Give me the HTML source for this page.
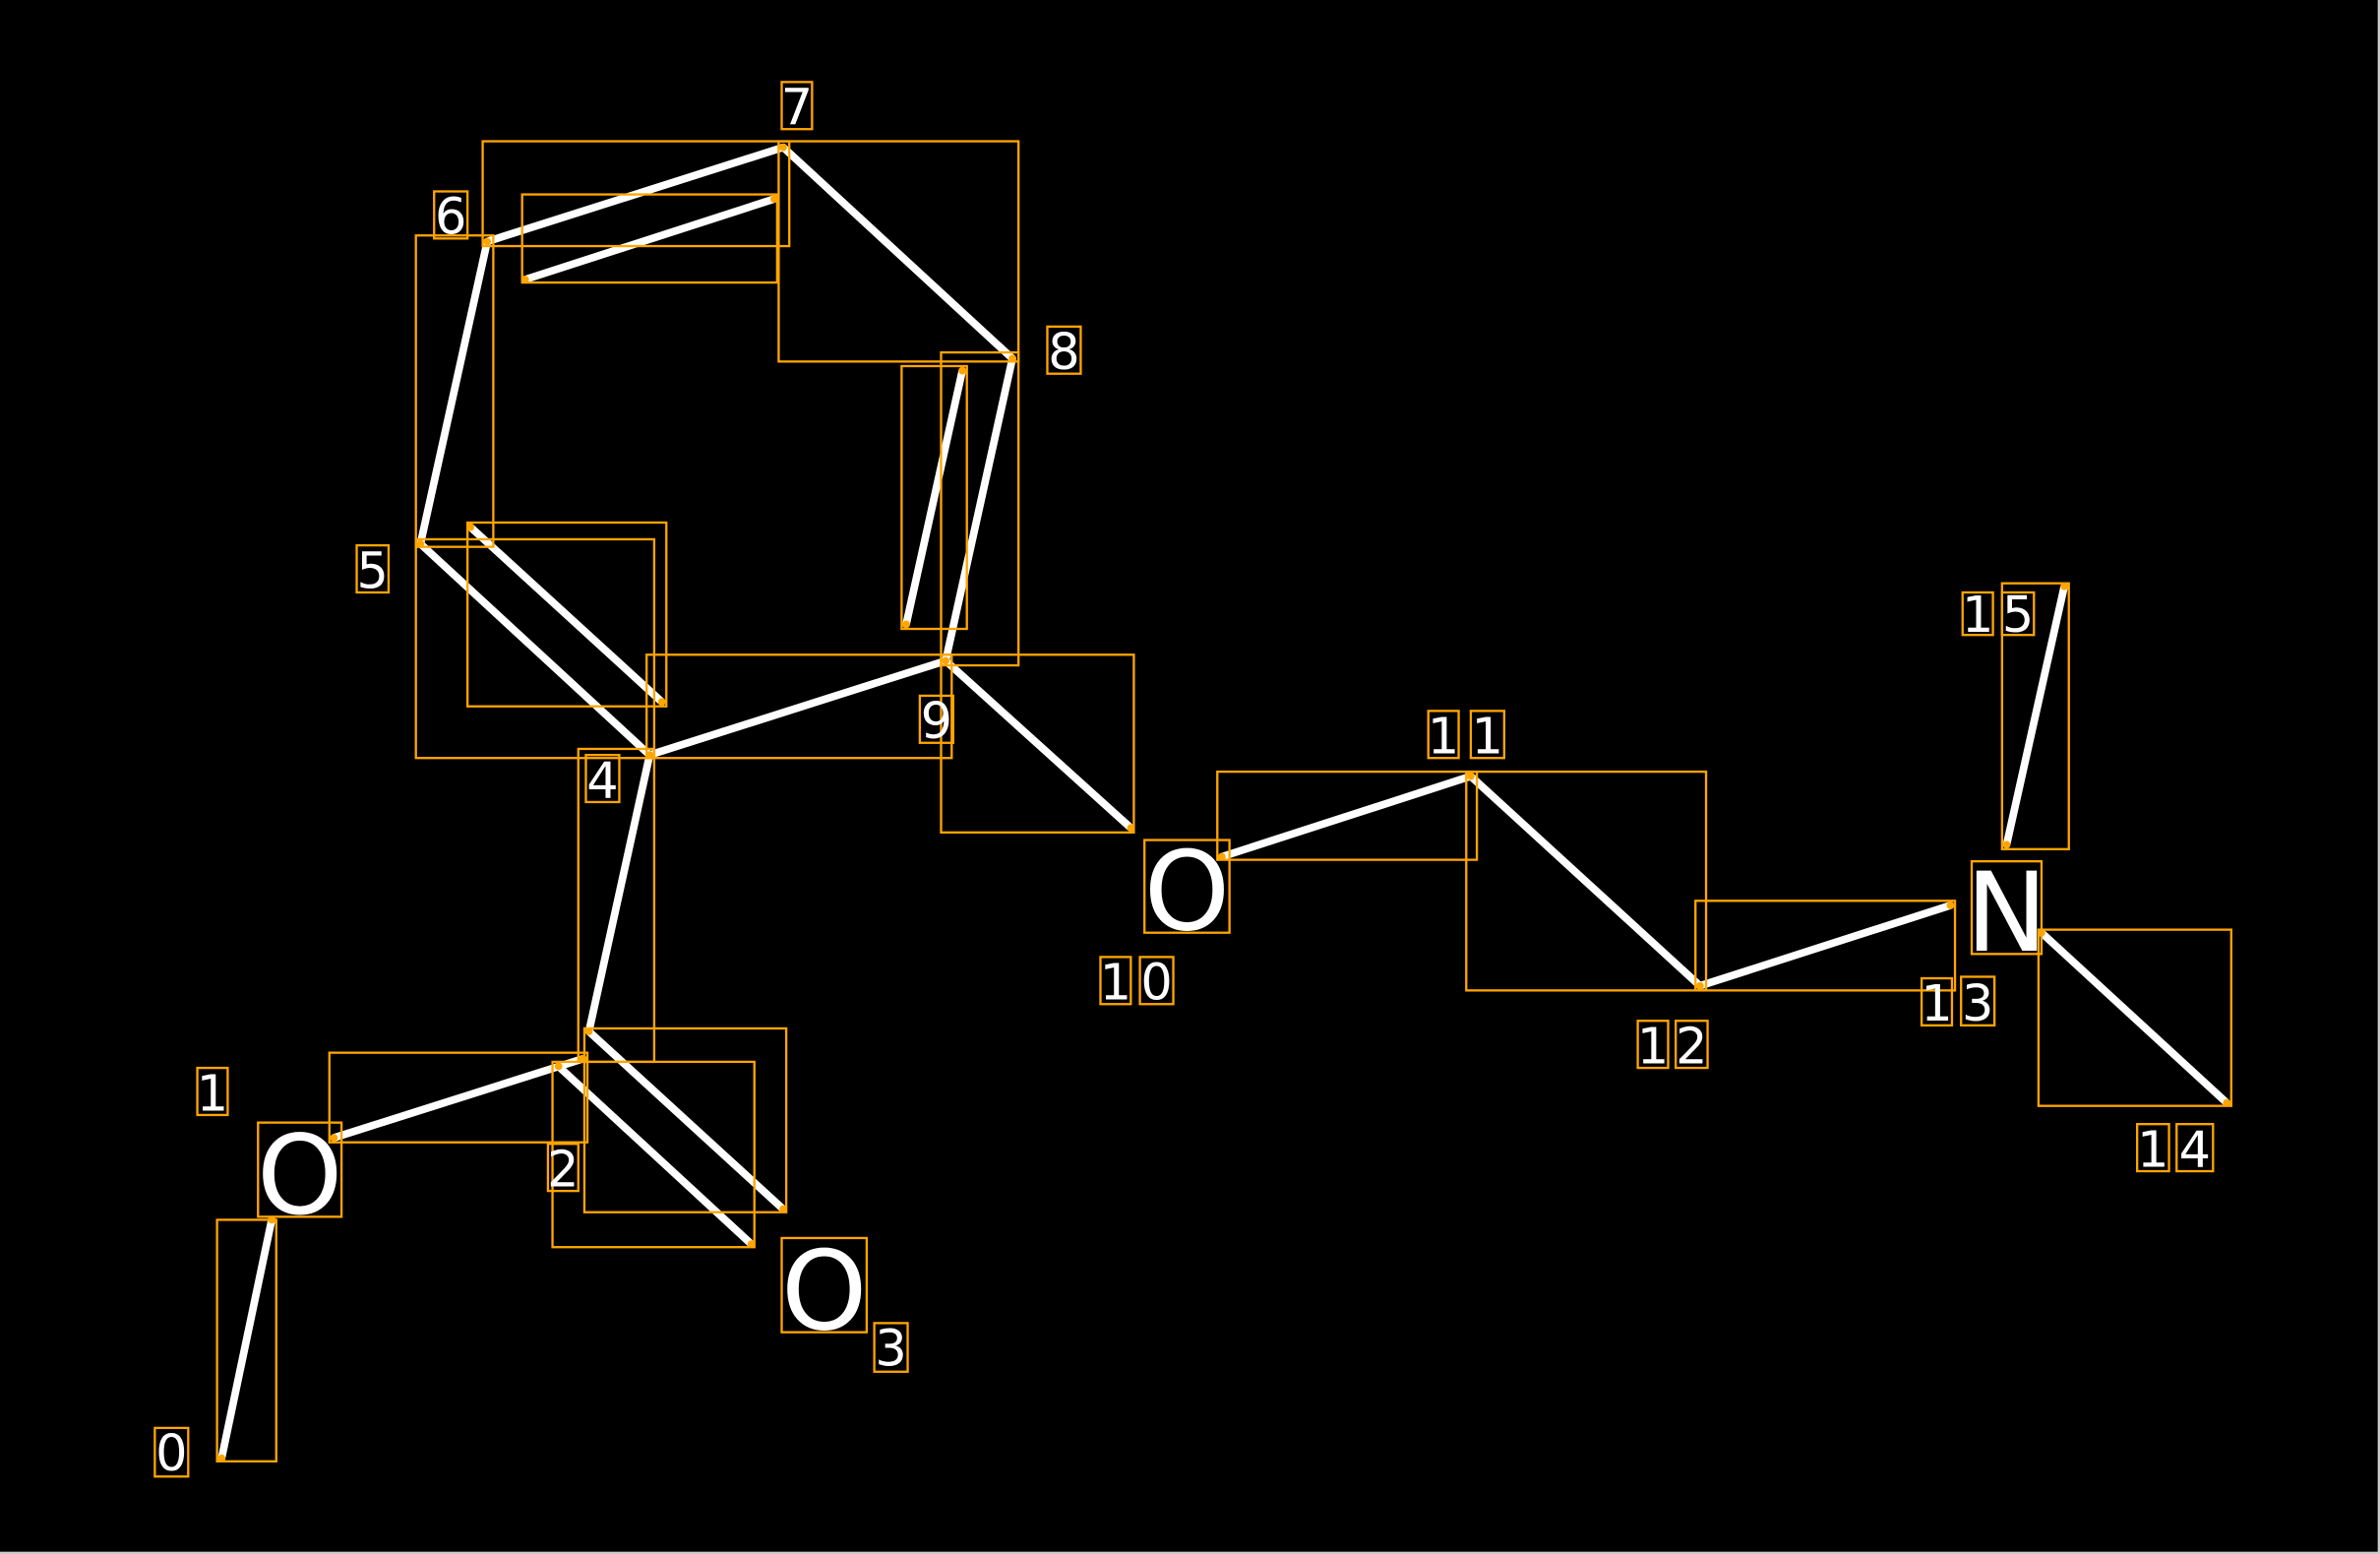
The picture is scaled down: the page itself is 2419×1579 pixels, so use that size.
<!DOCTYPE html>
<html><head><meta charset="utf-8"><style>
html,body{margin:0;padding:0;background:#000;}
svg{display:block;}
text{font-family:"DejaVu Sans","Liberation Sans",sans-serif;fill:#fff;}
</style></head><body>
<svg width="2419" height="1579" viewBox="0 0 1568 1023" preserveAspectRatio="none" xmlns="http://www.w3.org/2000/svg">
<rect x="0" y="0" width="1568" height="1023" fill="#000"/>
<rect x="1566.5" y="0" width="1.5" height="1023" fill="#ccc"/>
<rect x="0" y="1021.5" width="1568" height="1.5" fill="#ccc"/>
<g stroke="#fff" stroke-width="5" stroke-linecap="round">
<line x1="146" y1="960" x2="179" y2="803"/>
<line x1="220" y1="749" x2="384" y2="697"/>
<line x1="368" y1="702" x2="495" y2="819"/>
<line x1="388" y1="679" x2="516" y2="796"/>
<line x1="388" y1="679" x2="428" y2="497"/>
<line x1="428" y1="497" x2="277" y2="358"/>
<line x1="436" y1="462" x2="310" y2="347"/>
<line x1="277" y1="358" x2="321" y2="159"/>
<line x1="321" y1="159" x2="516" y2="97"/>
<line x1="346" y1="184" x2="510" y2="131"/>
<line x1="516" y1="97" x2="667" y2="236"/>
<line x1="667" y1="236" x2="623" y2="435"/>
<line x1="634" y1="244" x2="597" y2="411"/>
<line x1="623" y1="435" x2="428" y2="497"/>
<line x1="623" y1="435" x2="745" y2="545"/>
<line x1="805" y1="564" x2="969" y2="511"/>
<line x1="969" y1="511" x2="1120" y2="649"/>
<line x1="1120" y1="649" x2="1285" y2="596"/>
<line x1="1345" y1="614" x2="1467" y2="726"/>
<line x1="1322" y1="556" x2="1360" y2="386"/>
</g>
<g fill="orange">
<circle cx="146" cy="960" r="2.5"/><circle cx="179" cy="803" r="2.5"/>
<circle cx="220" cy="749" r="2.5"/><circle cx="384" cy="697" r="2.5"/>
<circle cx="368" cy="702" r="2.5"/><circle cx="495" cy="819" r="2.5"/>
<circle cx="388" cy="679" r="2.5"/><circle cx="516" cy="796" r="2.5"/>
<circle cx="428" cy="497" r="2.5"/><circle cx="277" cy="358" r="2.5"/>
<circle cx="436" cy="462" r="2.5"/><circle cx="310" cy="347" r="2.5"/>
<circle cx="321" cy="159" r="2.5"/><circle cx="516" cy="97" r="2.5"/>
<circle cx="346" cy="184" r="2.5"/><circle cx="510" cy="131" r="2.5"/>
<circle cx="667" cy="236" r="2.5"/><circle cx="623" cy="435" r="2.5"/>
<circle cx="634" cy="244" r="2.5"/><circle cx="597" cy="411" r="2.5"/>
<circle cx="745" cy="545" r="2.5"/><circle cx="805" cy="564" r="2.5"/>
<circle cx="969" cy="511" r="2.5"/><circle cx="1120" cy="649" r="2.5"/>
<circle cx="1285" cy="596" r="2.5"/><circle cx="1345" cy="614" r="2.5"/>
<circle cx="1467" cy="726" r="2.5"/><circle cx="1322" cy="556" r="2.5"/>
<circle cx="1360" cy="386" r="2.5"/>
</g>
<g fill="none" stroke="orange" stroke-width="1.5">
<rect x="143" y="803" width="39" height="159"/>
<rect x="217" y="693" width="170" height="59"/>
<rect x="364" y="699" width="133" height="122"/>
<rect x="385" y="677" width="133" height="121"/>
<rect x="381" y="493" width="50" height="206"/>
<rect x="274" y="355" width="157" height="144"/>
<rect x="308" y="344" width="131" height="121"/>
<rect x="274" y="155" width="51" height="205"/>
<rect x="318" y="93" width="202" height="69"/>
<rect x="344" y="128" width="168" height="58"/>
<rect x="513" y="93" width="158" height="145"/>
<rect x="620" y="232" width="51" height="206"/>
<rect x="594" y="241" width="43" height="173"/>
<rect x="426" y="431" width="201" height="68"/>
<rect x="620" y="431" width="127" height="117"/>
<rect x="802" y="508" width="171" height="58"/>
<rect x="966" y="508" width="158" height="144"/>
<rect x="1117" y="593" width="171" height="59"/>
<rect x="1343" y="612" width="127" height="116"/>
<rect x="1319" y="384" width="44" height="175"/>
<!-- big letters -->
<rect x="170" y="739" width="55" height="62"/>
<rect x="515" y="815" width="56" height="62"/>
<rect x="754" y="553" width="56" height="61"/>
<rect x="1299" y="567" width="46" height="61"/>
<!-- digit boxes -->
<rect x="102" y="940" width="22" height="32"/>
<rect x="130" y="703" width="20" height="31"/>
<rect x="361" y="753" width="20" height="31"/>
<rect x="576" y="871" width="22" height="32"/>
<rect x="386" y="497" width="22" height="31"/>
<rect x="235" y="359" width="21" height="31"/>
<rect x="286" y="126" width="22" height="31"/>
<rect x="515" y="54" width="20" height="31"/>
<rect x="690" y="215" width="22" height="31"/>
<rect x="606" y="458" width="22" height="31"/>
<rect x="725" y="630" width="20" height="31"/><rect x="751" y="630" width="22" height="31"/>
<rect x="941" y="468" width="20" height="31"/><rect x="969" y="468" width="22" height="31"/>
<rect x="1079" y="672" width="20" height="31"/><rect x="1104" y="672" width="21" height="31"/>
<rect x="1266" y="644" width="20" height="31"/><rect x="1292" y="643" width="22" height="32"/>
<rect x="1408" y="740" width="21" height="31"/><rect x="1434" y="740" width="24" height="31"/>
<rect x="1293" y="390" width="20" height="28"/><rect x="1319" y="390" width="21" height="28"/>
</g>
<g font-size="72" text-anchor="middle">
<text x="197.5" y="799">O</text>
<text x="543" y="875">O</text>
<text x="782" y="612">O</text>
<text x="1322" y="626">N</text>
</g>
<g font-size="33" text-anchor="middle">
<text x="113" y="968">0</text>
<text x="140" y="731">1</text>
<text x="371" y="781">2</text>
<text x="587" y="899">3</text>
<text x="397" y="525">4</text>
<text x="245.5" y="387">5</text>
<text x="297" y="154">6</text>
<text x="525" y="82">7</text>
<text x="701" y="243">8</text>
<text x="617" y="486">9</text>
<text x="735" y="658">1</text><text x="762" y="658">0</text>
<text x="951" y="496">1</text><text x="980" y="496">1</text>
<text x="1089" y="700">1</text><text x="1114.5" y="700">2</text>
<text x="1276" y="672">1</text><text x="1303" y="672">3</text>
<text x="1418.5" y="768">1</text><text x="1446" y="768">4</text>
<text x="1303" y="416">1</text><text x="1329.5" y="416">5</text>
</g>
</svg>
</body></html>
